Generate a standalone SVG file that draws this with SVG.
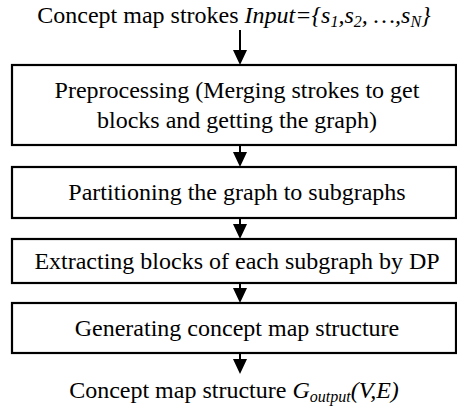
<svg xmlns="http://www.w3.org/2000/svg" width="457" height="408" viewBox="0 0 457 408">
<style>
text{font-family:'Liberation Serif','Times New Roman','DejaVu Serif',serif;font-size:24px;fill:#000;text-anchor:middle}
.sub{font-size:16px}
.b{fill:#fff;stroke:#000;stroke-width:2.2}
.c{stroke:#000;stroke-width:2;fill:none}
.h{fill:#000;stroke:none}
</style>
<rect width="457" height="408" fill="#fff"/>
<g id="input"><text x="234" y="23">Concept map strokes <tspan font-style="italic">Input={s</tspan><tspan class="sub" font-style="italic" dy="4">1</tspan><tspan font-style="italic" dy="-4">,s</tspan><tspan class="sub" font-style="italic" dy="4">2</tspan><tspan font-style="italic" dy="-4">, …,s</tspan><tspan class="sub" font-style="italic" dy="4">N</tspan><tspan font-style="italic" dy="-4">}</tspan></text></g>
<g id="preprocessing"><rect class="b" x="12" y="65" width="444" height="80"/><text x="237" y="98">Preprocessing (Merging strokes to get</text><text x="237" y="128">blocks and getting the graph)</text></g>
<g id="partitioning"><rect class="b" x="12" y="167" width="444" height="51"/><text x="237" y="200">Partitioning the graph to subgraphs</text></g>
<g id="extracting"><rect class="b" x="12" y="239" width="444" height="44"/><text x="237" y="269">Extracting blocks of each subgraph by DP</text></g>
<g id="generating"><rect class="b" x="12" y="303" width="444" height="50"/><text x="237" y="336">Generating concept map structure</text></g>
<g id="output"><text x="234" y="398">Concept map structure <tspan font-style="italic">G</tspan><tspan class="sub" font-style="italic" dy="4">output</tspan><tspan font-style="italic" dy="-4">(V,E)</tspan></text></g>
<g id="connectors">
<line class="c" x1="240" y1="30" x2="240" y2="52"/><polygon class="h" points="233,50 247,50 240,65"/>
<line class="c" x1="240" y1="145" x2="240" y2="154"/><polygon class="h" points="233,152 247,152 240,167"/>
<line class="c" x1="240" y1="218" x2="240" y2="226"/><polygon class="h" points="233,224 247,224 240,239"/>
<line class="c" x1="240" y1="283" x2="240" y2="290"/><polygon class="h" points="233,288 247,288 240,303"/>
<line class="c" x1="240" y1="353" x2="240" y2="361"/><polygon class="h" points="233,359 247,359 240,374"/>
</g>
</svg>
